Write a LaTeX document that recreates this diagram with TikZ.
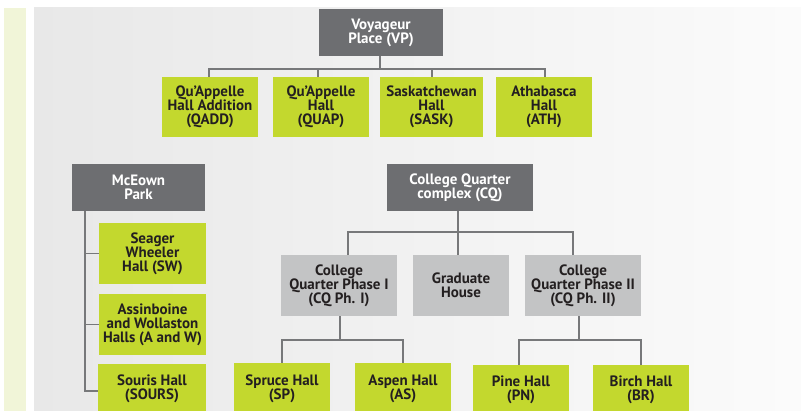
\documentclass[tikz,border=0pt]{standalone}
\usepackage{fontspec}
\setmainfont{PT Sans}
\usetikzlibrary{calc}
\definecolor{grn}{HTML}{C3D82E}
\definecolor{dk}{HTML}{6D6E71}
\definecolor{lg}{HTML}{C3C4C5}
\definecolor{ln}{HTML}{77787A}
\definecolor{strip}{HTML}{F1F5D8}
\definecolor{txt}{HTML}{231F20}
\begin{document}
\begin{tikzpicture}[x=1pt,y=-1pt,
  box/.style={rectangle,inner sep=0pt,align=center,font=\fontsize{15}{14}\selectfont\bfseries},
  dbox/.style={box,fill=dk,text=white},
  gbox/.style={box,fill=grn,text=txt},
  lbox/.style={box,fill=lg,text=txt},
  conn/.style={draw=ln,line width=1.5pt}]
\useasboundingbox (0,0) rectangle (801,411);
\fill[strip] (4,8) rectangle (26,411);
\shade[left color=black!9,right color=black!1.5] (34,8) rectangle (801,411);
\begin{scope}
\clip (0,0) rectangle (801,411);
% top group
\node[dbox,minimum width=124pt,minimum height=47pt] (vp) at (381,32.5) {Voyageur\\Place (VP)};
\node[gbox,minimum width=96pt,minimum height=60pt] (qadd) at (210,107) {Qu’Appelle\\Hall Addition\\(QADD)};
\node[gbox,minimum width=96pt,minimum height=60pt] (quap) at (321,107) {Qu’Appelle\\Hall\\(QUAP)};
\node[gbox,minimum width=103pt,minimum height=60pt] (sask) at (431.5,107) {Saskatchewan\\Hall\\(SASK)};
\node[gbox,minimum width=96pt,minimum height=60pt] (ath) at (544,107) {Athabasca\\Hall\\(ATH)};
% McEown
\node[dbox,minimum width=133pt,minimum height=47pt] (mc) at (138.5,187.5) {McEown\\Park};
\node[gbox,minimum width=107pt,minimum height=61pt] (sw) at (152.5,253.5) {Seager\\Wheeler\\Hall (SW)};
\node[gbox,minimum width=107pt,minimum height=61pt] (aw) at (152.5,324.5) {Assinboine\\and Wollaston\\Halls (A and W)};
\node[gbox,minimum width=108pt,minimum height=50pt] (sours) at (152,389) {Souris Hall\\(SOURS)};
% CQ
\node[dbox,minimum width=146pt,minimum height=47pt] (cq) at (460,187.5) {College Quarter\\complex (CQ)};
\node[lbox,minimum width=116pt,minimum height=61pt] (p1) at (339,285.5) {College\\Quarter Phase I\\(CQ Ph. I)};
\node[lbox,minimum width=96pt,minimum height=61pt] (grad) at (461,285.5) {Graduate\\House};
\node[lbox,minimum width=116pt,minimum height=61pt] (p2) at (583,285.5) {College\\Quarter Phase II\\(CQ Ph. II)};
\node[gbox,minimum width=96pt,minimum height=52pt] (sp) at (282,389) {Spruce Hall\\(SP)};
\node[gbox,minimum width=96pt,minimum height=52pt] (as) at (403,389) {Aspen Hall\\(AS)};
\node[gbox,minimum width=96pt,minimum height=50pt] (pn) at (521,390) {Pine Hall\\(PN)};
\node[gbox,minimum width=96pt,minimum height=50pt] (br) at (641,390) {Birch Hall\\(BR)};
\end{scope}
% connectors top
\coordinate (vpbus) at ($(vp.south)+(-1,13)$);
\draw[conn] ($(vp.south)+(-1,0)$) -- (vpbus);
\draw[conn] ($(qadd.north)+(-1,0)$) |- ($(ath.north)+(1,-8)$) -- ($(ath.north)+(1,0)$);
\draw[conn] ($(quap.north)+(-3,0)$) -- ++(0,-8);
\draw[conn] ($(sask.north)+(0.5,0)$) -- ++(0,-8);
% McEown connectors
\draw[conn] ($(mc.south west)+(13,0)$) |- ($(sours.west)+(0,2)$);
\draw[conn] ($(mc.south west)+(13,0)$) |- (sw.west);
\draw[conn] ($(mc.south west)+(13,0)$) |- (aw.west);
% CQ connectors
\draw[conn] ($(cq.south)+(-2,0)$) -- ($(cq.south)+(-2,21)$);
\draw[conn] ($(p1.north)+(9,0)$) |- ($(p2.north)+(-10,-23)$) -- ($(p2.north)+(-10,0)$);
\draw[conn] ($(grad.north)+(-3,0)$) -- ++(0,-23);
\draw[conn] ($(p1.south)+(1,0)$) -- ++(0,24);
\draw[conn] (sp.north) |- ($(as.north)+(0,-23)$) -- (as.north);
\draw[conn] ($(p2.south)+(-4,0)$) -- ++(0,24);
\draw[conn] ($(pn.north)+(-2,0)$) |- ($(br.north)+(0,-25)$) -- (br.north);
\end{tikzpicture}
\end{document}
